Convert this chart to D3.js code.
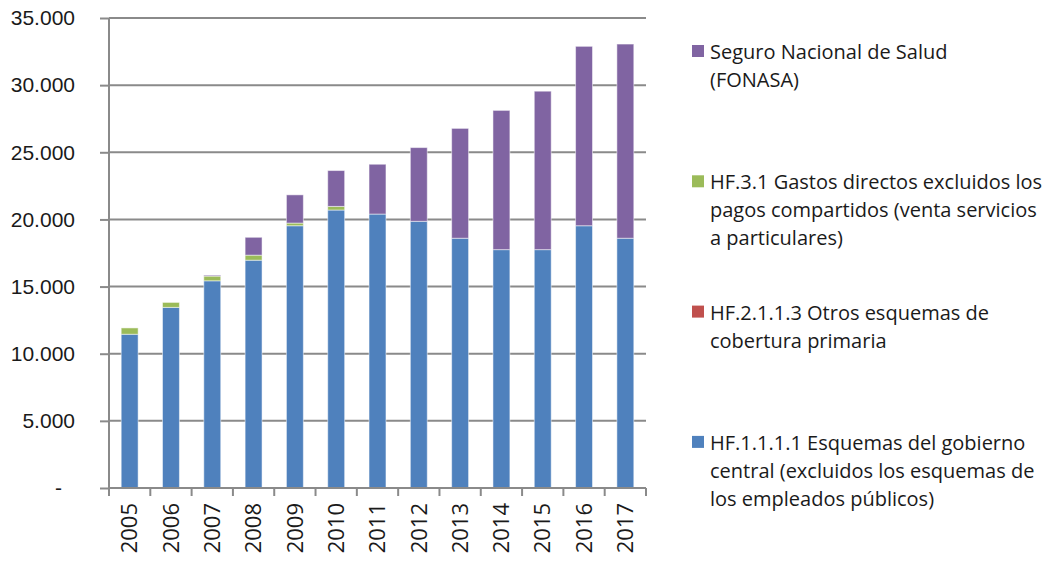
<!DOCTYPE html>
<html>
<head>
<meta charset="utf-8">
<script src="https://d3js.org/d3.v7.min.js"></script>
<style>
  body { margin: 0; padding: 0; background: #fff; }
  svg { display: block; font-family: "Open Sans", sans-serif; }
  .grid line { stroke: #8a8a8a; stroke-width: 2; }
  .axis path, .axis line { stroke: #8a8a8a; stroke-width: 2; }
  .axis text { fill: #1a1a1a; font-size: 21px; }
  .axis text.year { font-size: 22px; }
  .legend text { fill: #1a1a1a; font-size: 20px; }
</style>
</head>
<body>
<script>
var years = ["2005", "2006", "2007", "2008", "2009", "2010", "2011", "2012", "2013", "2014", "2015", "2016", "2017"];

// HF.1.1.1.1 Esquemas del gobierno central
var gobierno = [11450, 13450, 15430, 16965, 19530, 20700, 20400, 19860, 18600, 17750, 17750, 19530, 18600];
// HF.2.1.1.3 Otros esquemas de cobertura primaria
var otros = [0, 0, 0, 0, 0, 0, 0, 0, 0, 0, 0, 0, 0];
// HF.3.1 Gastos directos
var gastos = [470, 370, 350, 375, 200, 270, 0, 0, 0, 0, 0, 0, 0];
// Seguro Nacional de Salud (FONASA)
var fonasa = [0, 0, 70, 1330, 2100, 2670, 3710, 5490, 8180, 10370, 11800, 13360, 14460];

var yTicks = [0, 5000, 10000, 15000, 20000, 25000, 30000, 35000];

var keys = ["gob", "otros", "gastos", "fonasa"];
var colors = { gob: "#4f81bd", otros: "#c0504d", gastos: "#9bbb59", fonasa: "#8064a2" };
var legendItems = [
  { key: "fonasa", lines: ["Seguro Nacional de Salud", "(FONASA)"] },
  { key: "gastos", lines: ["HF.3.1 Gastos directos excluidos los", "pagos compartidos (venta servicios", "a particulares)"] },
  { key: "otros", lines: ["HF.2.1.1.3 Otros esquemas de", "cobertura primaria"] },
  { key: "gob", lines: ["HF.1.1.1.1 Esquemas del gobierno", "central (excluidos los esquemas de", "los empleados públicos)"] }
];

var table = years.map(function(y, i) {
  return { year: y, gob: gobierno[i], otros: otros[i], gastos: gastos[i], fonasa: fonasa[i] };
});

var width = 1049, height = 563;
var plotL = 109, plotR = 646, plotT = 18, plotB = 488;

var svg = d3.select("body").append("svg")
  .attr("width", width)
  .attr("height", height);

var x = d3.scaleBand().domain(years).range([plotL, plotR]).paddingInner(0.59).paddingOuter(0.295);
var y = d3.scaleLinear().domain([0, 35000]).range([plotB, plotT]);

var loc = d3.formatLocale({ decimal: ",", thousands: ".", grouping: [3], currency: ["", ""] });
var fmt = loc.format(",.0f");

// gridlines
svg.append("g").attr("class", "grid")
  .selectAll("line")
  .data(yTicks.slice(1))
  .enter().append("line")
  .attr("x1", plotL).attr("x2", plotR)
  .attr("y1", function(d) { return y(d); })
  .attr("y2", function(d) { return y(d); });

// stacked bars
var series = d3.stack().keys(keys)(table);
svg.append("g").selectAll("g")
  .data(series)
  .enter().append("g")
  .attr("fill", function(d) { return colors[d.key]; })
  .selectAll("rect")
  .data(function(d) { return d.filter(function(p) { return p[1] - p[0] > 0; }); })
  .enter().append("rect")
  .attr("x", function(d) { return x(d.data.year); })
  .attr("width", x.bandwidth())
  .attr("y", function(d) { return y(d[1]); })
  .attr("height", function(d) { return y(d[0]) - y(d[1]); })
  .attr("stroke", "#ffffff")
  .attr("stroke-opacity", 0.5)
  .attr("stroke-width", 1);

// y axis
var yAxis = d3.axisLeft(y).tickValues(yTicks).tickSize(9).tickPadding(25)
  .tickFormat(function(d) { return d === 0 ? "-" : fmt(d); });
svg.append("g").attr("class", "axis")
  .attr("transform", "translate(" + plotL + ",0)")
  .call(yAxis)
  .call(function(g) { g.select(".domain").attr("d", "M0," + plotT + "V" + plotB); })
  .call(function(g) {
    // excel accounting format: the zero dash sits further left
    g.selectAll(".tick text").filter(function(d) { return d === 0; }).attr("dx", -13);
  });

// x axis, ticks at band boundaries
var xg = svg.append("g").attr("class", "axis")
  .attr("transform", "translate(0," + plotB + ")");
xg.append("line").attr("x1", plotL).attr("x2", plotR);
xg.selectAll(".bt")
  .data(d3.range(years.length + 1))
  .enter().append("line")
  .attr("x1", function(i) { return plotL + i * x.step(); })
  .attr("x2", function(i) { return plotL + i * x.step(); })
  .attr("y1", 0).attr("y2", 8);
xg.selectAll("text")
  .data(years)
  .enter().append("text")
  .attr("class", "year")
  .attr("transform", function(d) { return "translate(" + (x(d) + x.bandwidth() / 2) + ",15)rotate(-90)"; })
  .attr("text-anchor", "end")
  .attr("dy", "0.35em")
  .text(function(d) { return d; });

// legend
var lg = svg.append("g").attr("class", "legend")
  .attr("transform", "translate(692,0)");
var item = lg.selectAll("g")
  .data(legendItems)
  .enter().append("g")
  .attr("transform", function(d, i) { return "translate(0," + (52 + i * 130.3) + ")"; });
item.append("rect")
  .attr("x", 0).attr("y", -7)
  .attr("width", 12).attr("height", 12)
  .attr("fill", function(d) { return colors[d.key]; });
item.each(function(d) {
  var t = d3.select(this).append("text").attr("x", 18);
  d.lines.forEach(function(l, j) {
    t.append("tspan").attr("x", 18).attr("y", j * 28).attr("dy", "0.35em").text(l);
  });
});
</script>
</body>
</html>
